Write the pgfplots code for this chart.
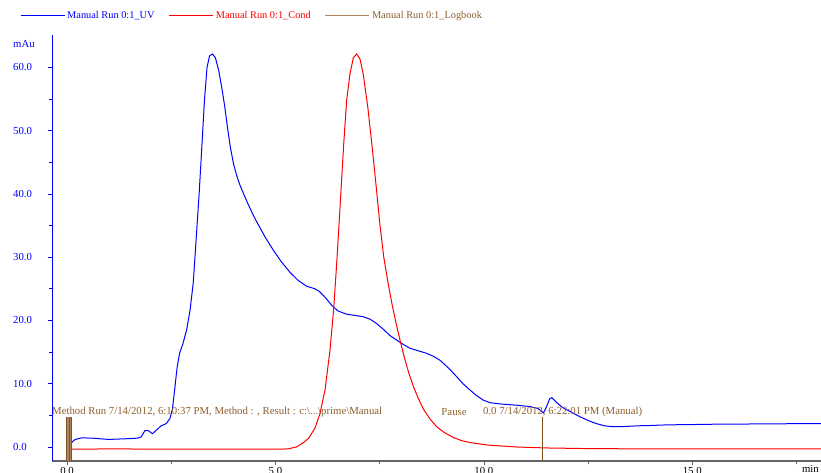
\documentclass[border=0pt]{standalone}
\usepackage{fontspec}
\setmainfont{Liberation Serif}
\usepackage{pgfplots}
\pgfplotsset{compat=1.18}
\definecolor{uvblue}{RGB}{0,0,255}
\definecolor{condred}{RGB}{255,0,0}
\definecolor{logbrown}{RGB}{128,80,30}
\definecolor{logtext}{RGB}{140,95,45}
\definecolor{loglight}{RGB}{175,135,95}
\definecolor{axgray}{RGB}{100,100,100}
\begin{document}
\begin{tikzpicture}
\begin{axis}[
  name=ax,
  scale only axis, width=769bp, height=426bp,
  xmin=-0.36, xmax=18.09, ymin=-2.21, ymax=65.1,
  axis x line*=bottom, axis y line*=left,
  axis line style={-},
  x axis line style={draw=axgray, line width=1.3bp},
  y axis line style={draw=uvblue, line width=0.8bp},
  xtick={0,5,10,15}, minor xtick={2.5,7.5,12.5,17.5},
  ytick={0,10,20,30,40,50,60}, minor ytick={5,15,25,35,45,55},
  tick align=outside, major tick length=4bp, minor tick length=3bp,
  x tick style={draw=axgray, line width=0.6bp},
  y tick style={draw=uvblue, line width=0.6bp},
  every tick label/.append style={font=\fontsize{10.8}{13}\selectfont},
  xticklabel style={/pgf/number format/fixed, /pgf/number format/fixed zerofill, /pgf/number format/precision=1, /pgf/number format/assume math mode=true, text=black, yshift=1bp},
  yticklabel style={/pgf/number format/fixed, /pgf/number format/fixed zerofill, /pgf/number format/precision=1, /pgf/number format/assume math mode=true, text=uvblue, anchor=west, inner sep=0pt, xshift=-35bp},
  clip=false,
  legend style={draw=none, fill=none, at={(rel axis cs:0,1)}, anchor=west, xshift=-32bp, yshift=19.3bp,
    legend columns=3, inner sep=0pt, outer sep=0pt,
    /tikz/every even column/.append style={column sep=12bp},
    font=\fontsize{10.4}{12.5}\selectfont},
  legend cell align=left,
  legend image code/.code={\draw[#1] (0bp,0bp) -- (44bp,0bp);},
]
\addlegendimage{draw=uvblue, line width=1.2bp}
\addlegendentry{\textcolor{uvblue}{Manual Run 0:1\_UV}}
\addlegendimage{draw=condred, line width=1.2bp}
\addlegendentry{\textcolor{condred}{Manual Run 0:1\_Cond}}
\addlegendimage{draw=loglight, line width=1.2bp}
\addlegendentry{\textcolor{logtext}{Manual Run 0:1\_Logbook}}
% UV
\addplot[forget plot, draw=uvblue, line width=1bp] coordinates {
(0.02,1.1) (0.06,-0.5) (0.12,0.8) (0.2,1.2) (0.35,1.45) (0.6,1.4) (1.0,1.2) (1.4,1.3) (1.7,1.4)
(1.78,1.6) (1.87,2.6) (1.95,2.6) (2.05,2.1) (2.15,2.7) (2.25,3.3) (2.38,3.7) (2.47,4.5) (2.53,6.0)
(2.59,9.5) (2.64,12.5) (2.7,14.8) (2.78,16.3) (2.87,18.5) (2.95,21.5) (3.03,26) (3.1,33) (3.17,40)
(3.24,48) (3.3,55) (3.36,60) (3.42,61.8) (3.49,62.1) (3.56,61.5) (3.64,59.5) (3.72,56.5) (3.78,54.0)
(3.85,50.5) (3.92,47.3) (4.0,44.6) (4.08,42.7) (4.16,41.2) (4.25,39.8) (4.35,38.3) (4.45,36.9)
(4.55,35.6) (4.75,33.2) (4.95,31.1) (5.15,29.2) (5.35,27.6) (5.55,26.3) (5.75,25.4) (5.95,25)
(6.05,24.6) (6.2,23.6) (6.35,22.4) (6.5,21.5) (6.7,21) (6.9,20.8) (7.1,20.6) (7.27,20.2) (7.43,19.5)
(7.59,18.6) (7.75,17.6) (7.91,16.9) (8.07,16.2) (8.23,15.6) (8.43,15.2) (8.63,14.8) (8.8,14.3)
(8.95,13.7) (9.15,12.5) (9.35,11.1) (9.5,10.0) (9.67,9.0) (9.83,8.1) (9.99,7.4) (10.15,7.0) (10.4,6.8)
(10.8,6.6) (11.1,6.4) (11.3,6.1) (11.43,5.4) (11.5,6.3) (11.58,7.6) (11.63,7.8) (11.75,7.0) (11.9,6.2)
(12.1,5.5) (12.3,4.8) (12.5,4.2) (12.7,3.7) (12.9,3.35) (13.1,3.2) (13.4,3.25) (13.7,3.35) (14.0,3.4)
(14.4,3.5) (15.0,3.55) (15.5,3.6) (16.0,3.6) (16.5,3.65) (17.0,3.65) (17.5,3.7) (18.09,3.7)
};
% Cond
\addplot[forget plot, draw=condred, line width=1bp] coordinates {
(0.05,-0.35) (1,-0.3) (3,-0.35) (5.0,-0.35) (5.3,-0.3) (5.5,0.0) (5.65,0.6) (5.8,1.4) (5.95,3.0)
(6.07,5.3) (6.19,9) (6.31,15.3) (6.4,22) (6.48,30) (6.56,39) (6.64,48) (6.71,54.8) (6.79,59)
(6.87,61.5) (6.95,62.1) (7.03,61.3) (7.11,58.8) (7.22,53.5) (7.32,47.5) (7.42,41) (7.51,35)
(7.6,30) (7.7,26) (7.8,22.5) (7.9,19.4) (8.0,16.6) (8.1,14) (8.2,11.7) (8.31,9.6) (8.42,7.8)
(8.55,6.0) (8.7,4.5) (8.87,3.2) (9.05,2.3) (9.27,1.5) (9.47,1.0) (9.67,0.7) (10.11,0.3) (10.8,0.0)
(11.5,-0.15) (12.5,-0.25) (14,-0.3) (16,-0.3) (18.09,-0.3)
};
% Logbook markers
\addplot[forget plot, fill=loglight, draw=none] coordinates {(-0.02,-2.21) (-0.02,4.8) (0.11,4.8) (0.11,-2.21)} -- cycle;
\addplot[forget plot, logbrown, line width=0.7bp] coordinates {(-0.01,-2.21) (-0.01,4.8)};
\addplot[forget plot, logbrown, line width=0.7bp] coordinates {(0.045,-2.21) (0.045,4.8)};
\addplot[forget plot, logbrown, line width=0.7bp] coordinates {(0.1,-2.21) (0.1,4.8)};
\addplot[forget plot, logbrown, line width=1.2bp] coordinates {(11.4,-2.21) (11.4,4.8)};
% annotations
\node[anchor=west, inner sep=0pt, text=logtext, font=\fontsize{10.8}{13}\selectfont] at (axis cs:-0.36,5.6)
  {Method Run 7/14/2012, 6:10:37 PM, Method : , Result : c:\textbackslash...\textbackslash prime\textbackslash Manual};
\node[anchor=west, inner sep=0pt, text=logtext, font=\fontsize{10.8}{13}\selectfont] at (axis cs:8.98,5.6) {Pause};
\node[anchor=west, inner sep=0pt, text=logtext, font=\fontsize{10.8}{13}\selectfont] at (axis cs:9.98,5.6) {0.0 7/14/2012, 6:22:01 PM (Manual)};
\node[anchor=west, inner sep=0pt, text=uvblue, font=\fontsize{10.8}{13}\selectfont] at ([xshift=-39bp,yshift=-9bp]rel axis cs:0,1) {mAu};
\node[anchor=east, inner sep=0pt, text=black, font=\fontsize{10.8}{13}\selectfont] at ([xshift=-2bp,yshift=-8bp]rel axis cs:1,0) {min};
\end{axis}
\pgfresetboundingbox
\path[use as bounding box] ([xshift=-52bp,yshift=-12bp]ax.south west) rectangle ([yshift=35bp]ax.north east);
\end{tikzpicture}
\end{document}
